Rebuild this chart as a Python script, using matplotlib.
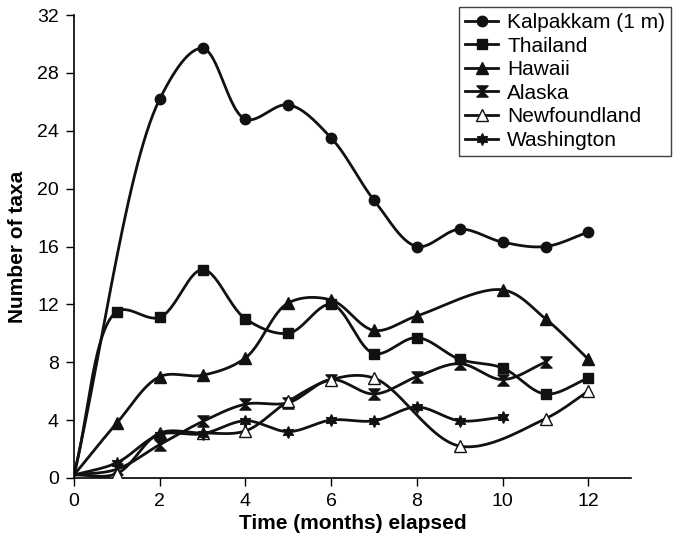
import numpy as np
import matplotlib.pyplot as plt
from matplotlib.path import Path

plt.rcParams['font.family'] = ['Liberation Sans', 'DejaVu Sans']

# Data (months elapsed, number of taxa)
kal_x = [0, 2, 3, 4, 5, 6, 7, 8, 9, 10, 11, 12]
kal_y = [0.2, 26.2, 29.7, 24.8, 25.8, 23.5, 19.2, 16.0, 17.2, 16.3, 16.0, 17.0]

tha_x = [0, 1, 2, 3, 4, 5, 6, 7, 8, 9, 10, 11, 12]
tha_y = [0.2, 11.5, 11.1, 14.4, 11.0, 10.0, 12.0, 8.6, 9.7, 8.2, 7.6, 5.8, 6.9]

haw_x = [0, 1, 2, 3, 4, 5, 6, 7, 8, 10, 11, 12]
haw_y = [0.2, 3.8, 7.0, 7.1, 8.3, 12.1, 12.3, 10.2, 11.2, 13.0, 11.0, 8.2]

ala_x = [0, 1, 2, 3, 4, 5, 6, 7, 8, 9, 10, 11]
ala_y = [0.2, 0.6, 2.3, 3.9, 5.1, 5.2, 6.8, 5.8, 7.0, 7.9, 6.8, 8.0]

new_x = [0, 1, 2, 3, 4, 5, 6, 7, 9, 11, 12]
new_y = [0.2, 0.3, 3.1, 3.1, 3.25, 5.3, 6.8, 6.9, 2.2, 4.1, 6.0]

was_x = [0, 1, 2, 3, 4, 5, 6, 7, 8, 9, 10]
was_y = [0.2, 1.05, 3.0, 3.05, 3.95, 3.2, 4.0, 3.95, 4.9, 3.95, 4.2]

names = ['Kalpakkam (1 m)', 'Thailand', 'Hawaii', 'Alaska', 'Newfoundland', 'Washington']

# hourglass marker for Alaska
hourglass = Path([(-1, 1), (1, 1), (0, 0), (1, -1), (-1, -1), (0, 0), (-1, 1)],
                 [Path.MOVETO, Path.LINETO, Path.LINETO, Path.LINETO,
                  Path.LINETO, Path.LINETO, Path.CLOSEPOLY])

# rough pixel size of one data unit, so the curve is smoothed in screen space
PX_X, PX_Y = 42.7, 14.45


def smooth(x, y, n=30, alpha=0.5):
    # centripetal Catmull-Rom through the points, only used to draw the line
    P = np.column_stack([np.asarray(x, float) * PX_X, np.asarray(y, float) * PX_Y])
    P = np.vstack([2 * P[0] - P[1], P, 2 * P[-1] - P[-2]])
    out = []
    for i in range(1, len(P) - 2):
        P0, P1, P2, P3 = P[i - 1], P[i], P[i + 1], P[i + 2]
        t0 = 0.0
        t1 = t0 + np.linalg.norm(P1 - P0) ** alpha
        t2 = t1 + np.linalg.norm(P2 - P1) ** alpha
        t3 = t2 + np.linalg.norm(P3 - P2) ** alpha
        t = np.linspace(t1, t2, n)[:, None]
        A1 = (t1 - t) / (t1 - t0) * P0 + (t - t0) / (t1 - t0) * P1
        A2 = (t2 - t) / (t2 - t1) * P1 + (t - t1) / (t2 - t1) * P2
        A3 = (t3 - t) / (t3 - t2) * P2 + (t - t2) / (t3 - t2) * P3
        B1 = (t2 - t) / (t2 - t0) * A1 + (t - t0) / (t2 - t0) * A2
        B2 = (t3 - t) / (t3 - t1) * A2 + (t - t1) / (t3 - t1) * A3
        out.append((t2 - t) / (t2 - t1) * B1 + (t - t1) / (t2 - t1) * B2)
    C = np.vstack(out)
    return C[:, 0] / PX_X, C[:, 1] / PX_Y


fig = plt.figure(figsize=(6.73, 5.40), dpi=100)
ax = fig.add_axes([0.110, 0.115, 0.828, 0.857])

col = '#111111'
series = [
    (kal_x, kal_y, dict(marker='o', markersize=7.5, mfc=col)),
    (tha_x, tha_y, dict(marker='s', markersize=7.5, mfc=col)),
    (haw_x, haw_y, dict(marker='^', markersize=8, mfc=col)),
    (ala_x, ala_y, dict(marker=hourglass, markersize=8, mfc=col)),
    (new_x, new_y, dict(marker='^', markersize=8, mfc='white')),
    (was_x, was_y, dict(marker=(6, 1, 0), markersize=8.5, mfc=col)),
]

for (xs, ys, mk), name in zip(series, names):
    sx, sy = smooth(xs, ys)
    ax.plot(sx, sy, color=col, lw=2.0, zorder=2)
    ax.plot(xs[1:], ys[1:], ls='none', color=col, mec=col, mew=1.0, zorder=3, **mk)
    ax.plot([], [], color=col, lw=2.0, mec=col, label=name, **mk)

ax.set_xlim(0, 13)
ax.set_ylim(0, 32)
ax.set_xticks(range(0, 13, 2))
ax.set_yticks(range(0, 33, 4))
ax.spines['top'].set_visible(False)
ax.spines['right'].set_visible(False)
for s in ('left', 'bottom'):
    ax.spines[s].set_linewidth(1.2)
ax.tick_params(direction='out', length=6, width=1.0, labelsize=14, pad=5)
ax.set_xlabel('Time (months) elapsed', fontsize=15, fontweight='bold', labelpad=3)
ax.set_ylabel('Number of taxa', fontsize=15, fontweight='bold', labelpad=7)

leg = ax.legend(loc='upper right', bbox_to_anchor=(1.072, 1.018), fontsize=15,
                frameon=True, fancybox=False, handlelength=1.55, handletextpad=0.45,
                labelspacing=0.22, borderpad=0.3, borderaxespad=0.0)
leg.get_frame().set_edgecolor(col)
leg.get_frame().set_linewidth(1.0)

fig.savefig('out.png', dpi=100)
